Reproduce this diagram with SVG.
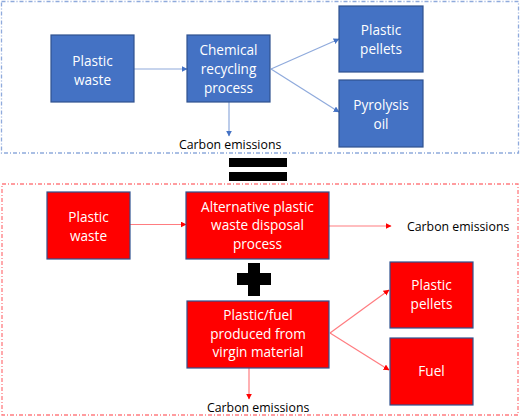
<svg xmlns="http://www.w3.org/2000/svg" width="520" height="417" viewBox="0 0 520 417">
<defs>
<style>
.bx{stroke:#2F528F;stroke-width:1.2}
.blue{fill:#4472C4}
.red{fill:#FF0000}
.t{font-family:"Open Sans","Noto Sans",sans-serif;font-size:13.6px;fill:#ffffff;text-anchor:middle}
.ce{font-family:"Open Sans","Noto Sans",sans-serif;font-size:12.3px;fill:#000000}
.cb{fill:none;stroke:#8FAADC;stroke-width:1.2}
.cr{fill:none;stroke:#FF7C80;stroke-width:1.2}
.frameb{fill:none;stroke:#8FAADC;stroke-width:1.3;stroke-dasharray:4 2 1 2}
.framer{fill:none;stroke:#FF7C80;stroke-width:1.3;stroke-dasharray:4 2 1 2}
</style>
<marker id="ab" viewBox="0 0 10 10" refX="9" refY="5" markerWidth="6" markerHeight="6" markerUnits="userSpaceOnUse" orient="auto"><path d="M0,0 L10,5 L0,10 Z" fill="#4472C4"/></marker>
<marker id="ar" viewBox="0 0 10 10" refX="9" refY="5" markerWidth="6" markerHeight="6" markerUnits="userSpaceOnUse" orient="auto"><path d="M0,0 L10,5 L0,10 Z" fill="#FF0000"/></marker>
</defs>
<rect width="520" height="417" fill="#ffffff"/>
<g id="frames">
<rect class="frameb" x="1.5" y="1.5" width="517" height="151.5"/>
<rect class="framer" x="2" y="184" width="516" height="231"/>
</g>
<g id="connectors">
<line class="cb" x1="134" y1="69" x2="187" y2="69" marker-end="url(#ab)"/>
<line class="cb" x1="271" y1="69" x2="339" y2="39" marker-end="url(#ab)"/>
<line class="cb" x1="271" y1="69" x2="339" y2="112" marker-end="url(#ab)"/>
<line class="cb" x1="229" y1="102" x2="229" y2="136" marker-end="url(#ab)"/>
<line class="cr" x1="130" y1="224.5" x2="186" y2="224.5" marker-end="url(#ar)"/>
<line class="cr" x1="329" y1="226" x2="391" y2="226" marker-end="url(#ar)"/>
<line class="cr" x1="330" y1="333" x2="389" y2="290" marker-end="url(#ar)"/>
<line class="cr" x1="330" y1="333" x2="389" y2="370" marker-end="url(#ar)"/>
<line class="cr" x1="249" y1="368" x2="249" y2="399" marker-end="url(#ar)"/>
</g>
<g id="n1"><rect class="bx blue" x="51" y="35" width="83" height="67"/><text class="t" x="92.5" y="65.5">Plastic</text><text class="t" x="92.5" y="84.5">waste</text></g>
<g id="n2"><rect class="bx blue" x="187" y="35" width="83" height="67"/><text class="t" x="228.5" y="54.5">Chemical</text><text class="t" x="228.5" y="73.5">recycling</text><text class="t" x="228.5" y="92.5">process</text></g>
<g id="n3"><rect class="bx blue" x="339" y="6" width="84" height="66"/><text class="t" x="381" y="35">Plastic</text><text class="t" x="381" y="53.5">pellets</text></g>
<g id="n4"><rect class="bx blue" x="339" y="80" width="84" height="67"/><text class="t" x="381" y="110">Pyrolysis</text><text class="t" x="381" y="128.5">oil</text></g>
<g id="e1"><text class="ce" x="179" y="149">Carbon emissions</text></g>
<g id="equals"><rect x="229" y="158" width="58" height="9" fill="#000"/><rect x="229" y="172" width="58" height="9" fill="#000"/></g>
<g id="n5"><rect class="bx red" x="47" y="192" width="83" height="67"/><text class="t" x="88.5" y="222">Plastic</text><text class="t" x="88.5" y="240.5">waste</text></g>
<g id="n6"><rect class="bx red" x="186" y="192" width="143" height="67"/><text class="t" x="257.5" y="211.5">Alternative plastic</text><text class="t" x="257.5" y="230">waste disposal</text><text class="t" x="257.5" y="248.5">process</text></g>
<g id="e2"><text class="ce" x="407" y="230.5">Carbon emissions</text></g>
<g id="plus"><rect x="237" y="273" width="34" height="12" fill="#000"/><rect x="248" y="263" width="12" height="33" fill="#000"/></g>
<g id="n7"><rect class="bx red" x="187" y="301" width="142" height="67"/><text class="t" x="258" y="320">Plastic/fuel</text><text class="t" x="258" y="338.5">produced from</text><text class="t" x="258" y="357">virgin material</text></g>
<g id="n8"><rect class="bx red" x="390" y="262" width="83" height="66"/><text class="t" x="431.5" y="290">Plastic</text><text class="t" x="431.5" y="308.5">pellets</text></g>
<g id="n9"><rect class="bx red" x="390" y="338" width="83" height="67"/><text class="t" x="431.5" y="376">Fuel</text></g>
<g id="e3"><text class="ce" x="207" y="412">Carbon emissions</text></g>
</svg>
